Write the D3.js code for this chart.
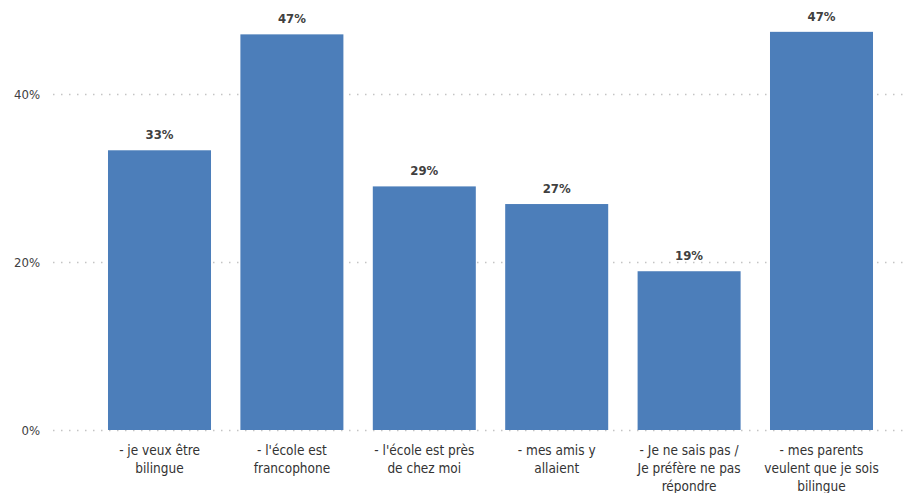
<!DOCTYPE html>
<html>
<head>
<meta charset="utf-8">
<script src="https://cdn.jsdelivr.net/npm/d3@7"></script>
<style>
  html, body { margin: 0; padding: 0; background: #fff; }
  svg { display: block; font-family: "DejaVu Sans Condensed", "Roboto", sans-serif; }
</style>
</head>
<body>
<svg id="chart" width="906" height="493"></svg>
<script>
// Reasons given, share of respondents
const categories = [
  ["- je veux être", "bilingue"],
  ["- l'école est", "francophone"],
  ["- l'école est près", "de chez moi"],
  ["- mes amis y", "allaient"],
  ["- Je ne sais pas /", "Je préfère ne pas", "répondre"],
  ["- mes parents", "veulent que je sois", "bilingue"]
];
const values = [0.333, 0.471, 0.290, 0.269, 0.189, 0.474];
const yTicks = [0, 0.2, 0.4];

const svg = d3.select("#chart");
const x = d3.scaleBand()
  .domain(d3.range(categories.length))
  .range([93.3, 887.7])
  .paddingInner(0.222)
  .paddingOuter(0.111);
const y = d3.scaleLinear().domain([0, 0.4]).range([430, 94]);
const pct = d3.format(".0%");

// Dotted horizontal gridlines with percentage labels
const grid = svg.append("g");
grid.selectAll("line").data(yTicks).join("line")
  .attr("x1", 53).attr("x2", 906)
  .attr("y1", d => y(d) + 0.5).attr("y2", d => y(d) + 0.5)
  .attr("stroke", "#c4c4c4").attr("stroke-width", 1.3)
  .attr("stroke-dasharray", "1.5,6.5");

const yAxis = d3.axisLeft(y).tickValues(yTicks).tickFormat(pct).tickSize(0).tickPadding(0);
svg.append("g")
  .attr("transform", "translate(40,0)")
  .call(yAxis)
  .call(g => g.select(".domain").remove())
  .call(g => g.selectAll("text")
    .attr("fill", "#404040").attr("font-size", 13)
    .attr("font-family", "\"DejaVu Sans Condensed\", sans-serif"));

// Bars
svg.append("g").selectAll("rect").data(values).join("rect")
  .attr("x", (d, i) => x(i))
  .attr("width", x.bandwidth())
  .attr("y", d => y(d))
  .attr("height", d => y(0) - y(d))
  .attr("fill", "#4c7eba");

// Value labels above bars
svg.append("g").selectAll("text").data(values).join("text")
  .attr("x", (d, i) => x(i) + x.bandwidth() / 2)
  .attr("y", d => y(d) - 11)
  .attr("text-anchor", "middle")
  .attr("font-size", 13)
  .attr("font-weight", "bold")
  .attr("fill", "#404040")
  .text(d => pct(d));

// Category labels, multi-line
const catG = svg.append("g");
categories.forEach((lines, i) => {
  const t = catG.append("text")
    .attr("x", x(i) + x.bandwidth() / 2)
    .attr("y", 455)
    .attr("text-anchor", "middle")
    .attr("font-size", 13.5)
    .attr("fill", "#333");
  lines.forEach((ln, j) => {
    t.append("tspan")
      .attr("x", x(i) + x.bandwidth() / 2)
      .attr("dy", j === 0 ? 0 : 18)
      .text(ln);
  });
});
</script>
</body>
</html>
